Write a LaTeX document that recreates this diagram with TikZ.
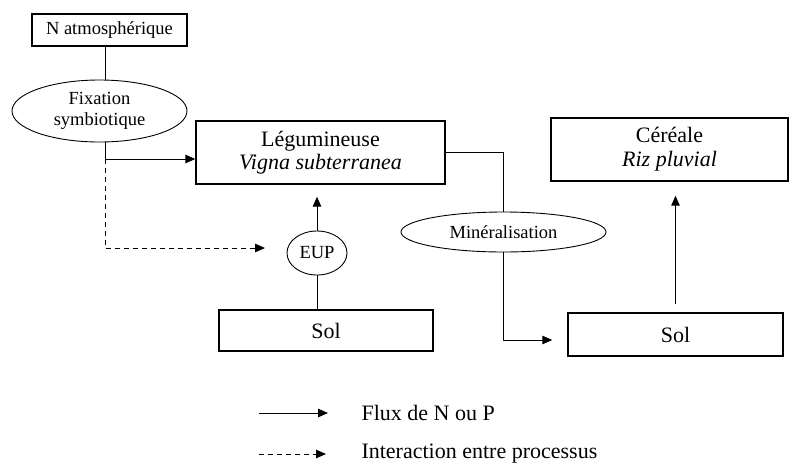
\documentclass[tikz,border=0pt]{standalone}
\usepackage{fontspec}
\setmainfont{Liberation Serif}
\usepackage{tikz}
\usetikzlibrary{shapes,arrows.meta,positioning}
\newcommand{\smallfnt}{\fontsize{18.5}{21}\selectfont}
\newcommand{\bigfnt}{\fontsize{22}{23}\selectfont}

\begin{document}
\begin{tikzpicture}[x=1pt,y=-1pt,
		box/.style={draw, line width=1.4pt, rectangle, inner sep=0pt, align=center},
		proc/.style={draw, line width=0.9pt, ellipse, inner sep=0pt, align=center, font=\smallfnt},
		flux/.style={line width=1pt, -{Triangle[length=10pt,width=8.5pt]}},
		interact/.style={flux, dash pattern=on 5pt off 4pt}]
		\useasboundingbox (0,0) rectangle (790,464);
		% Define nodes
		\node[box, minimum width=155pt, minimum height=32pt, font=\smallfnt] (natm) at (109.5,30) {N atmosphérique};
		\node[proc, minimum width=175pt, minimum height=62pt] (fix) at (99.5,111) {Fixation\\symbiotique};
		\node[box, minimum width=249pt, minimum height=63pt, font=\bigfnt] (leg) at (320.5,152.5) {Légumineuse\\\textit{Vigna subterranea}};
		\node[box, minimum width=237pt, minimum height=63pt, font=\bigfnt] (cer) at (669.5,149.5) {Céréale\\[1pt]\textit{Riz pluvial}};
		\node[proc, minimum width=60pt, minimum height=44pt] (eup) at (317,253) {EUP};
		\node[box, minimum width=214pt, minimum height=41pt, font=\bigfnt] (sol1) at (326,330.5) {Sol};
		\node[proc, minimum width=205pt, minimum height=40pt] (min) at (503.5,232) {Minéralisation};
		\node[box, minimum width=215pt, minimum height=43pt, font=\bigfnt] (sol2) at (675.5,334.5) {Sol};
		\coordinate (fx) at (105,159);
		\coordinate (dend) at (265,248);
		
		% Connect the nodes
		\draw[line width=1pt] (natm.south -| fx) -- (fix.north -| fx);
		\draw[line width=1pt] (fix.south -| fx) -- (fx);
		\draw[flux] (fx) -- (fx -| leg.west);
		\draw[interact] (fx) |- (dend);
		\draw[flux, shorten >=12pt] (eup.north) -- (leg.south -| eup.north);
		\draw[line width=1pt] (sol1.north -| eup.south) -- (eup.south);
		\draw[line width=1pt] (leg.east) -| (min.north);
		\draw[flux, shorten >=15pt] (min.south) |- ([yshift=-5.5pt]sol2.west);
		\draw[flux, shorten <=8pt, shorten >=14pt] (sol2.north) -- (cer.south -| sol2.north);
		
		% Legend
		\node[anchor=west, font=\bigfnt] (lflux) at (358,413) {Flux de N ou P};
		\node[anchor=west, font=\bigfnt] (linter) at (358,454) {Interaction entre processus};
		\coordinate[left=99pt of lflux.west] (fluxa);
		\coordinate[left=99pt of linter.west] (intera);
		\draw[flux] (fluxa) -- ([xshift=-30pt]lflux.west);
		\draw[interact] (intera) -- ([xshift=-32pt]linter.west);
	\end{tikzpicture}
\end{document}
